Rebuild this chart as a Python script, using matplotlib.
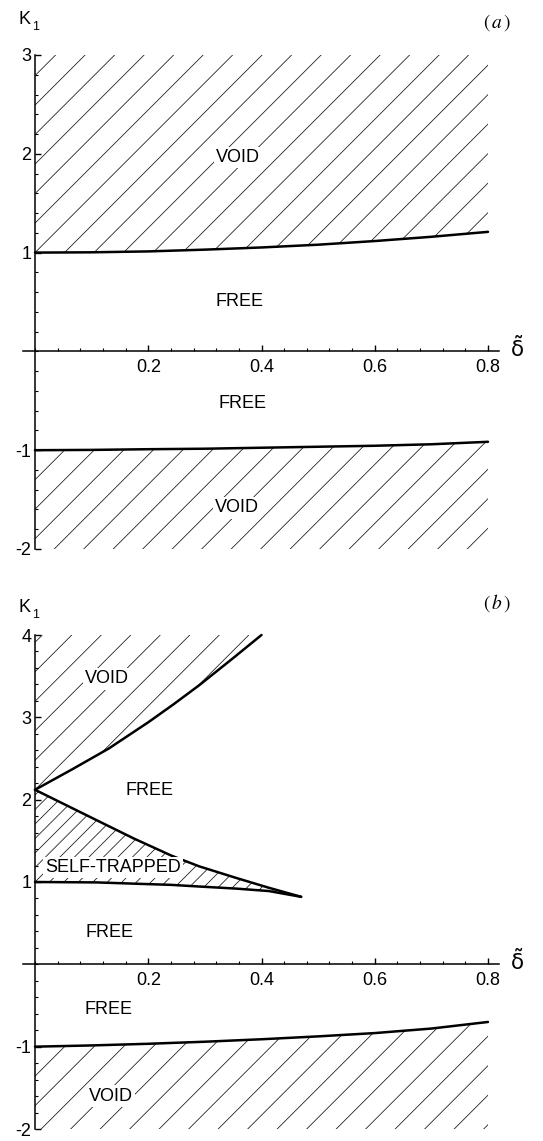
import numpy as np
import matplotlib
matplotlib.use('Agg')
import matplotlib.pyplot as plt
from matplotlib.collections import LineCollection
from matplotlib.patches import Polygon
from matplotlib.ticker import FixedLocator, MultipleLocator

plt.rcParams['font.family'] = ['Liberation Sans', 'DejaVu Sans']

# panel (a): boundaries of the void regions
a_delta = [0.0, 0.1, 0.2, 0.3, 0.4, 0.5, 0.6, 0.7, 0.8]
a_void_top = [1.00, 1.003, 1.012, 1.03, 1.052, 1.08, 1.117, 1.16, 1.21]
a_void_bottom = [-1.00, -0.997, -0.99, -0.985, -0.975, -0.965, -0.955, -0.94, -0.915]

# panel (b): void, self-trapped and lower void boundaries
b_void_top_delta = [0.0, 0.066, 0.13, 0.2, 0.245, 0.29, 0.35, 0.4]
b_void_top = [2.12, 2.37, 2.62, 2.94, 3.16, 3.39, 3.72, 4.0]
b_trap_delta = [0.0, 0.109, 0.174, 0.241, 0.29, 0.355, 0.413, 0.47]
b_trap_upper = [2.12, 1.75, 1.53, 1.32, 1.19, 1.05, 0.93, 0.82]
b_trap_lower = [1.0, 0.995, 0.98, 0.965, 0.945, 0.92, 0.89, 0.82]
b_delta = [0.0, 0.1, 0.2, 0.3, 0.4, 0.5, 0.6, 0.7, 0.8]
b_void_bottom = [-1.0, -0.985, -0.965, -0.94, -0.91, -0.875, -0.835, -0.78, -0.70]

x_ticks = [0.2, 0.4, 0.6, 0.8]
x_ticklabels = ['0.2', '0.4', '0.6', '0.8']
a_yticks = [-2, -1, 1, 2, 3]
a_yticklabels = ['-2', '-1', '1', '2', '3']
b_yticks = [-2, -1, 1, 2, 3, 4]
b_yticklabels = ['-2', '-1', '1', '2', '3', '4']

W, H = 543, 1141
XLIM = (-0.0221, 0.8198)


def hatch(ax, verts, anchor, step_px, lw=0.55):
    """Draw 45 degree hatch lines (in pixel space) clipped to a polygon."""
    poly = Polygon(verts, closed=True, facecolor='none', edgecolor='none')
    ax.add_patch(poly)
    bb = ax.get_window_extent()
    x0, x1 = ax.get_xlim()
    y0, y1 = ax.get_ylim()
    sx = bb.width / (x1 - x0)
    sy = bb.height / (y1 - y0)
    vx = np.array([v[0] for v in verts])
    vy = np.array([v[1] for v in verts])
    c0 = sy * anchor[1] - sx * anchor[0]
    cvals = sy * vy - sx * vx
    kmin = int(np.floor((cvals.min() - c0) / step_px)) - 1
    kmax = int(np.ceil((cvals.max() - c0) / step_px)) + 1
    xa, xb = vx.min() - 0.05, vx.max() + 0.05
    segs = []
    for k in range(kmin, kmax + 1):
        c = c0 + k * step_px
        segs.append([(xa, (sx * xa + c) / sy), (xb, (sx * xb + c) / sy)])
    lc = LineCollection(segs, colors='#111111', linewidths=lw)
    ax.add_collection(lc, autolim=False)
    lc.set_clip_path(poly)


def setup_axes(ax, ylim, yticks, yticklabels):
    ax.set_xlim(*XLIM)
    ax.set_ylim(*ylim)
    for side in ['top', 'right']:
        ax.spines[side].set_visible(False)
    ax.spines['left'].set_position(('data', 0))
    ax.spines['bottom'].set_position(('data', 0))
    ax.spines['left'].set_bounds(*ylim)
    ax.spines['left'].set_linewidth(1.1)
    ax.spines['bottom'].set_linewidth(1.1)
    ax.xaxis.set_major_locator(FixedLocator(x_ticks))
    ax.set_xticklabels(x_ticklabels)
    ax.xaxis.set_minor_locator(MultipleLocator(0.04))
    ax.yaxis.set_major_locator(FixedLocator(yticks))
    ax.set_yticklabels(yticklabels)
    ax.yaxis.set_minor_locator(MultipleLocator(0.2))
    ax.tick_params(which='major', direction='in', length=4, width=1, labelsize=13)
    ax.tick_params(which='minor', direction='in', length=2.5, width=0.8)
    ax.tick_params(axis='x', which='major', pad=5.5)
    ax.tick_params(axis='y', which='major', pad=2.5)
    ax.patch.set_visible(False)


def curve(ax, x, y):
    ax.plot(x, y, color='black', lw=1.8, solid_capstyle='round', clip_on=False, zorder=3)


def label(ax, x, y, s, box=True):
    kw = dict(ha='center', va='center', fontsize=13, zorder=4)
    if box:
        kw['bbox'] = dict(facecolor='white', edgecolor='none', pad=1.5)
    ax.text(x, y, s, **kw)


def corner_texts(fig, y_k, y_tag, tag, y_delta):
    fig.text(24 / W, 1 - y_k / H, 'K', fontsize=13, ha='center', va='center')
    fig.text(35.5 / W, 1 - (y_k + 8) / H, '1', fontsize=9, ha='center', va='center')
    fig.text(497 / W, 1 - y_tag / H, tag, fontsize=14, ha='center', va='center',
             math_fontfamily='stix')
    fig.text(517 / W, 1 - y_delta / H, r'$\tilde{\mathrm{\delta}}$', fontsize=15.5, ha='center',
             va='center', math_fontfamily='dejavusans')


fig = plt.figure(figsize=(W / 100, H / 100), dpi=100)

# ---------------- panel (a)
ax_a = fig.add_axes([22.5 / W, 1 - 549 / H, 476.7 / W, 494 / H])
setup_axes(ax_a, (-2, 3), a_yticks, a_yticklabels)
top_verts = list(zip(a_delta, a_void_top)) + [(0.8, 3.0), (0.0, 3.0)]
hatch(ax_a, top_verts, (0.0, 1.0), 29.5)
bot_verts = list(zip(a_delta, a_void_bottom)) + [(0.8, -2.0), (0.0, -2.0)]
hatch(ax_a, bot_verts, (0.0, -1.0), 29.5)
curve(ax_a, a_delta, a_void_top)
curve(ax_a, a_delta, a_void_bottom)
label(ax_a, 0.358, 1.96, 'VOID')
label(ax_a, 0.362, 0.51, 'FREE', box=False)
label(ax_a, 0.366, -0.53, 'FREE', box=False)
label(ax_a, 0.357, -1.585, 'VOID')
corner_texts(fig, 19, 23, r'$(\,a\,)$', 349)

# ---------------- panel (b)
ax_b = fig.add_axes([22.5 / W, 1 - 1129 / H, 476.7 / W, 494 / H])
setup_axes(ax_b, (-2, 4), b_yticks, b_yticklabels)
void_verts = list(zip(b_void_top_delta, b_void_top)) + [(0.0, 4.0)]
hatch(ax_b, void_verts, (0.0, b_void_top[0]), 29.5)
trap_verts = list(zip(b_trap_delta, b_trap_upper)) + list(zip(b_trap_delta[::-1], b_trap_lower[::-1]))
hatch(ax_b, trap_verts, (0.0, 1.0), 14.5)
low_verts = list(zip(b_delta, b_void_bottom)) + [(0.8, -2.0), (0.0, -2.0)]
hatch(ax_b, low_verts, (0.0, -1.0), 29.5)
curve(ax_b, b_void_top_delta, b_void_top)
curve(ax_b, b_trap_delta, b_trap_upper)
curve(ax_b, b_trap_delta, b_trap_lower)
curve(ax_b, b_delta, b_void_bottom)
label(ax_b, 0.127, 3.466, 'VOID')
label(ax_b, 0.203, 2.117, 'FREE', box=False)
label(ax_b, 0.138, 1.18, 'SELF-TRAPPED')
label(ax_b, 0.131, 0.39, 'FREE', box=False)
label(ax_b, 0.129, -0.543, 'FREE', box=False)
label(ax_b, 0.134, -1.60, 'VOID')
corner_texts(fig, 607, 603, r'$(\,b\,)$', 962)

fig.savefig('out.png', dpi=100)
